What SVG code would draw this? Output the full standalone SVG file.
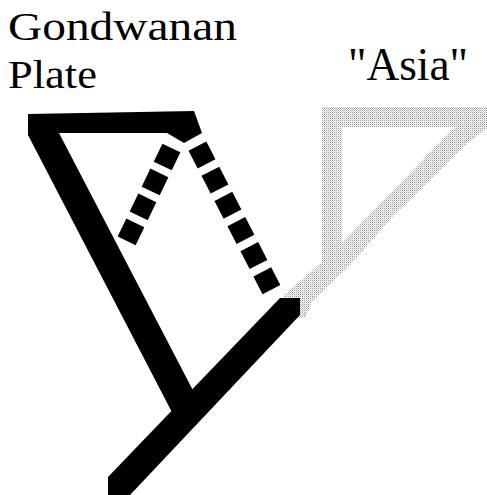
<svg xmlns="http://www.w3.org/2000/svg" width="487" height="495" viewBox="0 0 487 495">
<defs>
<pattern id="dither" width="2" height="2" patternUnits="userSpaceOnUse">
<rect width="2" height="2" fill="#ffffff"/>
<rect x="0" y="0" width="1" height="1" fill="#9a9a9a"/>
<rect x="1" y="1" width="1" height="1" fill="#d2d2d2"/>
</pattern>
</defs>
<style>
.lbl{font-family:"Liberation Serif","Times New Roman",serif;fill:#000}
.plate{fill:#000}
.dash{fill:none;stroke:#000;stroke-width:20}
</style>
<rect width="487" height="495" fill="#fff"/>
<g id="asia">
<path d="M322,107 L487,107 L487,128 L470,141 L392,217 L350,265 L312,302 L305,318 L296,318 L283,296 L300,281 L322,262 Z M342,127 L455,127 L342,243 Z" fill="url(#dither)" fill-rule="evenodd"/>
</g>
<g id="gondwanan-plate">
<polygon class="plate" points="28,114 194,111 202,133 184,143 167,133 59,133 198,400 176,420 28,135"/>
</g>
<g id="subduction-bar">
<polygon class="plate" points="280,298 300,298 300,315 130,495 108,495 108,477"/>
</g>
<g id="connectors">
<path class="dash" d="M171.4,148 L126.6,241" stroke-dasharray="20 7.7"/>
<path class="dash" d="M197.4,146.1 L271.6,289.9" stroke-dasharray="20 8.3"/>
</g>
<g id="labels">
<text class="lbl" x="8" y="40" font-size="41" textLength="229" lengthAdjust="spacingAndGlyphs">Gondwanan</text>
<text class="lbl" x="8" y="88" font-size="40" textLength="89" lengthAdjust="spacingAndGlyphs">Plate</text>
<text class="lbl" x="348" y="80" font-size="47" textLength="120" lengthAdjust="spacingAndGlyphs">"Asia"</text>
</g>
</svg>
